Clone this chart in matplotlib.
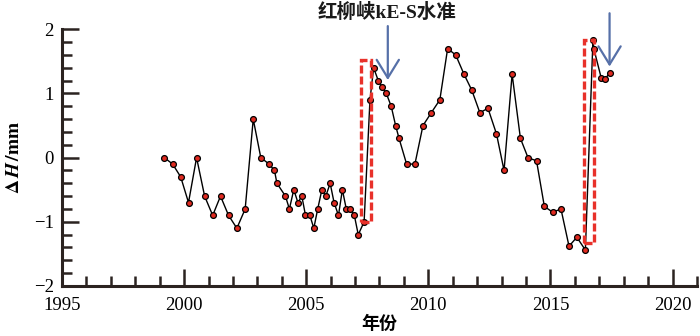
import matplotlib
matplotlib.use("Agg")
import matplotlib.pyplot as plt
from matplotlib.patches import Rectangle

# levelling series (year, dH in mm)
years = [1999.19, 1999.53, 1999.86, 2000.18, 2000.51, 2000.84, 2001.17, 2001.49,
         2001.82, 2002.16, 2002.50, 2002.83, 2003.14, 2003.48, 2003.70, 2003.80,
         2004.15, 2004.31, 2004.49, 2004.66, 2004.82, 2004.97, 2005.15, 2005.31,
         2005.47, 2005.64, 2005.80, 2005.98, 2006.14, 2006.32, 2006.48, 2006.64,
         2006.81, 2006.97, 2007.13, 2007.37, 2007.61, 2007.76, 2007.95, 2008.11,
         2008.28, 2008.48, 2008.66, 2008.80, 2009.11, 2009.45, 2009.78, 2010.12,
         2010.47, 2010.79, 2011.12, 2011.46, 2011.78, 2012.11, 2012.44, 2012.79,
         2013.10, 2013.43, 2013.77, 2014.08, 2014.43, 2014.75, 2015.09, 2015.43,
         2015.76, 2016.08, 2016.43, 2016.74, 2016.78, 2017.08, 2017.25, 2017.42]
dh = [0, -0.1, -0.3, -0.7, 0, -0.6, -0.9, -0.6,
      -0.9, -1.1, -0.8, 0.6, 0, -0.1, -0.2, -0.4,
      -0.6, -0.8, -0.5, -0.7, -0.6, -0.9, -0.9, -1.1,
      -0.8, -0.5, -0.6, -0.4, -0.7, -0.9, -0.5, -0.8,
      -0.8, -0.9, -1.2, -1.0, 0.9, 1.4, 1.2, 1.1,
      1.0, 0.8, 0.5, 0.3, -0.1, -0.1, 0.5, 0.7,
      0.9, 1.7, 1.6, 1.3, 1.05, 0.7, 0.77, 0.37,
      -0.2, 1.3, 0.3, 0.0, -0.05, -0.76, -0.85, -0.8,
      -1.38, -1.24, -1.44, 1.84, 1.69, 1.24, 1.23, 1.32]

# highlighted jumps: (x0, x1, y0, y1)
boxes = [(2007.24, 2007.65, -1.0, 1.52),
         (2016.36, 2016.79, -1.33, 1.83)]
# arrows: (x, tail y, tip y)
arrows = [(2008.34, 2.05, 1.21),
          (2017.42, 2.25, 1.42)]
title = "红柳峡kE-S水准"

plt.rcParams["mathtext.fontset"] = "stix"
serif = ["Liberation Serif", "Noto Sans CJK SC"]
ink = "#2b2320"

fig = plt.figure(figsize=(7, 3.36), dpi=100)
ax = fig.add_axes([62 / 700, 1 - 286 / 336, (697 - 62) / 700, (286 - 29.3) / 336])

ax.plot(years, dh, color="black", lw=1.0, marker="o", ms=4.2,
        mfc="#e02a20", mec="black", mew=0.9, zorder=3)

for x0, x1, y0, y1 in boxes:
    ax.add_patch(Rectangle((x0, y0), x1 - x0, y1 - y0, fill=False,
                           ec="#e8312a", lw=2.4, ls=(0, (2.4, 0.9)),
                           zorder=4, clip_on=False))

for x, yt, yh in arrows:
    ax.annotate("", xy=(x, yh), xytext=(x, yt),
                arrowprops=dict(arrowstyle="->,head_length=13,head_width=8",
                                mutation_scale=1, color="#5670a8", lw=1.6,
                                shrinkA=0, shrinkB=0),
                annotation_clip=False)

fig.text(387 / 700, 1 - 12 / 336, title, family=serif, weight="bold",
         fontsize=14, ha="center", va="center", color="#1a1a1a")

ax.set_xlim(1995, 2021)
ax.set_ylim(-2, 2)
ax.set_xticks([1995, 2000, 2005, 2010, 2015, 2020])
ax.set_xticks(range(1995, 2022), minor=True)
ax.set_yticks([-2, -1, 0, 1, 2])
ax.set_yticks([v / 5 for v in range(-10, 11)], minor=True)

for s in ["top", "right"]:
    ax.spines[s].set_visible(False)
for s in ["left", "bottom"]:
    ax.spines[s].set_linewidth(2.2)
    ax.spines[s].set_color(ink)

ax.tick_params(which="major", direction="in", length=12, width=1.8,
               color=ink, labelsize=13.5)
ax.tick_params(which="minor", direction="in", length=7, width=1.8, color=ink)
ax.tick_params(axis="x", which="major", pad=8)
ax.tick_params(axis="y", which="major", pad=6)
for lab in ax.get_xticklabels() + ax.get_yticklabels():
    lab.set_family(serif)

ax.set_xlabel("年份", family=serif, fontsize=13, weight="bold", labelpad=1)
ax.set_ylabel(r"$\mathbf{\Delta}\,\mathbfit{H}\,\mathbf{/mm}$", fontsize=14,
              labelpad=8)

fig.savefig("out.png", dpi=100)
